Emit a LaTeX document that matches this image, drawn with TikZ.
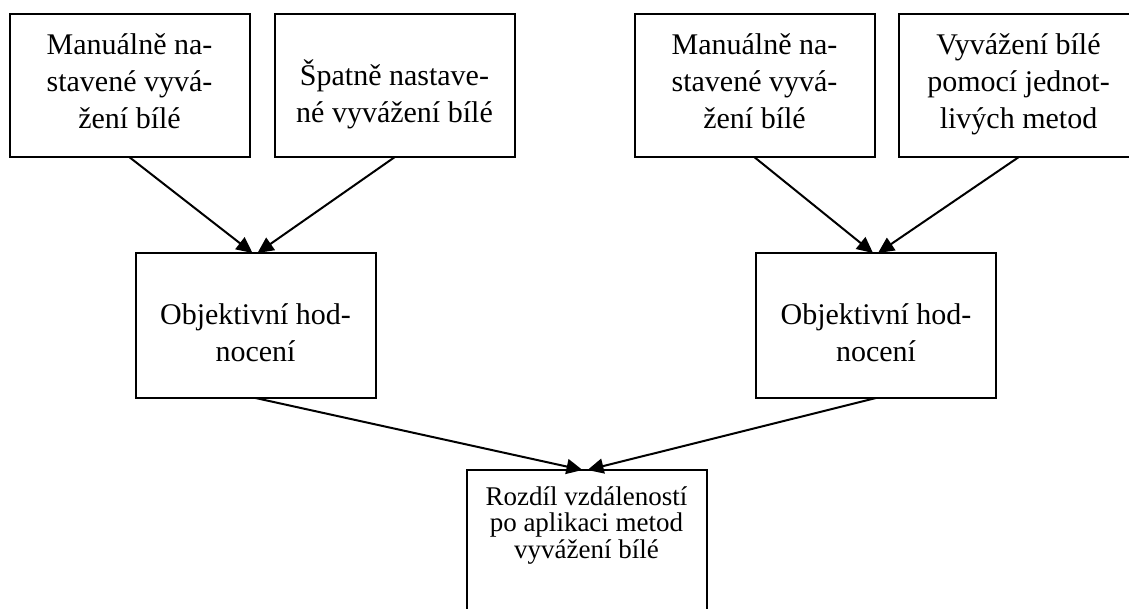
\documentclass[tikz,border=0pt]{standalone}
\usepackage{fontspec}
\setmainfont{Liberation Serif}
\usetikzlibrary{arrows.meta}
\newcommand{\firstBig}{\rule{0pt}{32pt}}
\newcommand{\firstSmall}{\rule{0pt}{28pt}}
\begin{document}
\begin{tikzpicture}[x=1pt,y=-1pt,
  box/.style={draw=black, line width=2pt, minimum width=240pt, minimum height=143pt, inner sep=0pt, outer sep=0pt},
  big/.style={font=\fontsize{30}{37}\selectfont, align=center, inner sep=0pt, anchor=north},
  small/.style={font=\fontsize{27}{26.5}\selectfont, align=center, inner sep=0pt, anchor=north},
  arr/.style={line width=2pt, -{Triangle[length=16pt,width=15pt]}}]
\useasboundingbox (0,0) rectangle (1129,609);
\fill[white] (0,0) rectangle (1129,609);
\node[box] (a) at (129.5,85.75) {};
\node[box] (b) at (394.5,85.75) {};
\node[box] (c) at (754.5,85.75) {};
\node[box] (d) at (1018.5,85.75) {};
\node[box, minimum height=145pt] (ml) at (255.5,325.5) {};
\node[box, minimum height=145pt] (mr) at (876,325.5) {};
\node[box, minimum height=170pt] (res) at (586.5,555) {};
\node[big] (ta) at (129.5,22.5) {\firstBig Manuálně na-\\stavené vyvá-\\žení bílé};
\node[big] (tb) at (394.5,53) {\firstBig Špatně nastave-\\né vyvážení bílé};
\node[big] (tc) at (754.5,22.5) {\firstBig Manuálně na-\\stavené vyvá-\\žení bílé};
\node[big] (td) at (1018.5,22.5) {\firstBig Vyvážení bílé\\pomocí jednot-\\livých metod};
\node[big] (tml) at (255.5,292) {\firstBig Objektivní hod-\\nocení};
\node[big] (tmr) at (876,292) {\firstBig Objektivní hod-\\nocení};
\node[small] (tres) at (586.5,477) {\firstSmall Rozdíl vzdáleností\\po aplikaci metod\\vyvážení bílé};
\draw[arr] (a.south) -- ([xshift=-3pt]ml.north);
\draw[arr] (b.south) -- ([xshift=2pt]ml.north);
\draw[arr] (c.south) -- ([xshift=-3pt]mr.north);
\draw[arr] (d.south) -- ([xshift=2pt]mr.north);
\draw[arr] (ml.south) -- ([xshift=-4pt]res.north);
\draw[arr] (mr.south) -- ([xshift=1pt]res.north);
\end{tikzpicture}
\end{document}
